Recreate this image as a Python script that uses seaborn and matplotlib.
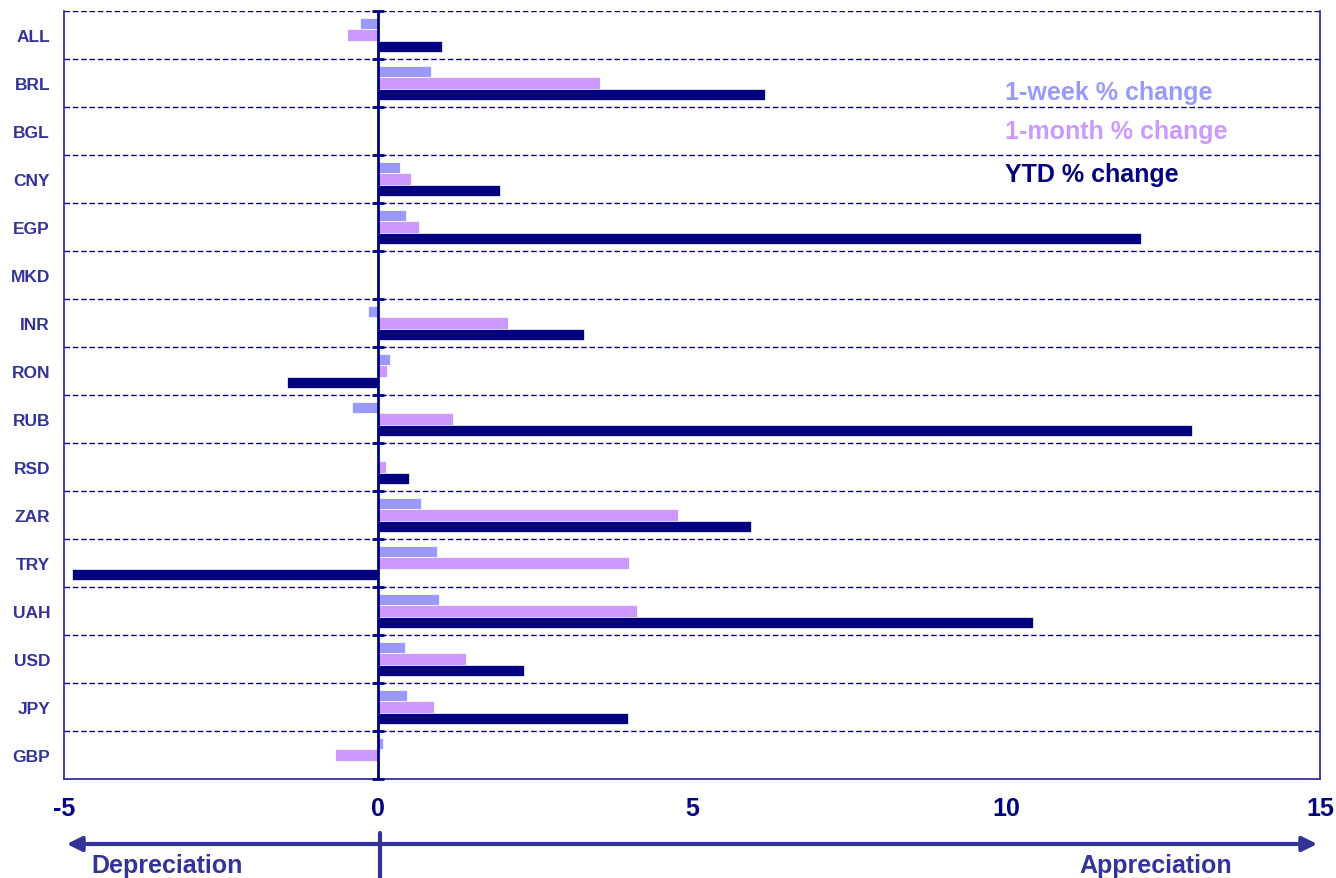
import matplotlib
matplotlib.use("Agg")
import matplotlib.pyplot as plt
import seaborn as sns
import pandas as pd
import numpy as np

currencies = ["ALL", "BRL", "BGL", "CNY", "EGP", "MKD", "INR", "RON", "RUB",
              "RSD", "ZAR", "TRY", "UAH", "USD", "JPY", "GBP"]
week_chg = [-0.29, 0.84, 0.0, 0.35, 0.45, 0.0, -0.16, 0.19, -0.41, 0.0,
            0.68, 0.94, 0.97, 0.43, 0.46, 0.08]
month_chg = [-0.49, 3.53, 0.0, 0.52, 0.65, 0.0, 2.07, 0.14, 1.19, 0.12,
             4.78, 4.00, 4.12, 1.40, 0.89, -0.68]
ytd_chg = [1.02, 6.16, 0.0, 1.94, 12.15, 0.0, 3.28, -1.45, 12.96, 0.50,
           5.94, -4.87, 10.43, 2.32, 3.98, 0.0]
series_names = ["1-week % change", "1-month % change", "YTD % change"]
series_colors = ["#9999FF", "#CC99FF", "#000080"]
xticks = [-5, 0, 5, 10, 15]

sns.set_theme(style="white")
plt.rcParams['font.family'] = ['Liberation Sans', 'DejaVu Sans']

df = pd.DataFrame({
    "cur": currencies * 3,
    "val": week_chg + month_chg + ytd_chg,
    "series": [series_names[0]] * 16 + [series_names[1]] * 16 + [series_names[2]] * 16,
})

fig = plt.figure(figsize=(13.36, 8.79), dpi=100)
ax = fig.add_axes([64/1336, 1 - 780/879, (1320-64)/1336, (780-12)/879])

sns.barplot(data=df, y="cur", x="val", hue="series", orient="h",
            palette=series_colors, hue_order=series_names, order=currencies,
            width=0.7, gap=0, dodge=True, ax=ax, legend=False,
            edgecolor="white", linewidth=0.5, saturation=1)

ax.set_xlim(-5, 15)
ax.set_ylim(15.5, -0.5)
ax.set_xlabel("")
ax.set_ylabel("")

# gridlines at category boundaries
for b in np.arange(-0.5, 15.0, 1.0):
    ax.axhline(b, color="#000080", lw=1, ls=(0, (4, 2)), zorder=0.5)

# zero axis
ax.axvline(0, color="#000080", lw=2, zorder=5)
ax.plot([0] * 17, np.arange(-0.5, 16, 1.0), marker="_", ms=9, mew=2,
        color="#000080", ls="none", zorder=6, clip_on=False)

ax.spines["top"].set_visible(False)
for s in ["left", "right", "bottom"]:
    ax.spines[s].set_color("#333399")
    ax.spines[s].set_linewidth(1.3)

ax.set_xticks(xticks)
ax.set_xticklabels([str(t) for t in xticks], fontsize=18, fontweight="bold",
                   color="#000080")
ax.tick_params(axis="x", direction="out", length=6, width=1.3, color="#333399", pad=6)
ax.tick_params(axis="y", length=0, pad=10)
for lab in ax.get_yticklabels():
    lab.set_fontsize(12.5)
    lab.set_fontweight("bold")
    lab.set_color("#333399")

# legend text
legend_y = [93, 132, 175]
for name, col, yp in zip(series_names, series_colors, legend_y):
    fig.text(1005/1336, 1 - yp/879, name, color=col, fontsize=18,
             fontweight="bold", ha="left", va="center")

# depreciation / appreciation arrow
fig.patches.append(matplotlib.patches.FancyArrowPatch(
    (64/1336, 1 - 845/879), (1320/1336, 1 - 845/879),
    transform=fig.transFigure, arrowstyle="<|-|>", mutation_scale=22,
    color="#333399", lw=3))
fig.lines.append(matplotlib.lines.Line2D([380/1336, 380/1336], [1 - 834/879, 0],
                                         transform=fig.transFigure,
                                         color="#333399", lw=3))
fig.text(167/1336, 1 - 866/879, "Depreciation", color="#333399", fontsize=18,
         fontweight="bold", ha="center", va="center")
fig.text(1156/1336, 1 - 866/879, "Appreciation", color="#333399", fontsize=18,
         fontweight="bold", ha="center", va="center")

fig.savefig("out.png", dpi=100)
